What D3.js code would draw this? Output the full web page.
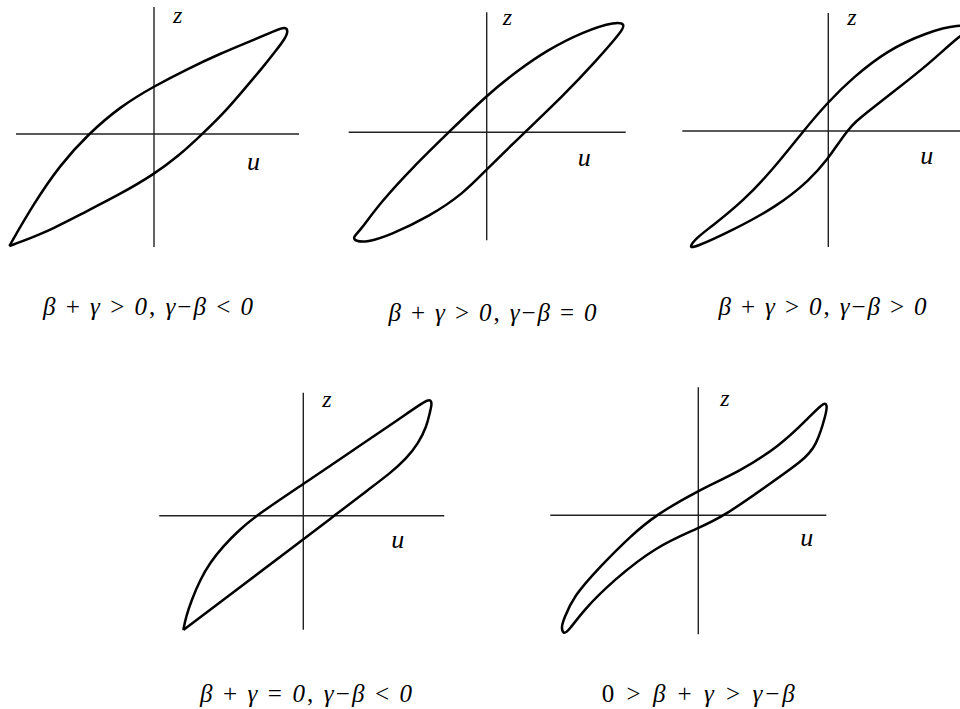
<!DOCTYPE html>
<html>
<head>
<meta charset="utf-8">
<script src="https://cdn.jsdelivr.net/npm/d3@7"></script>
<style>
  body { margin: 0; background: #fff; }
  svg { display: block; }
</style>
</head>
<body>
<svg id="chart" width="960" height="709"></svg>
<script>
// Hysteresis loops z(u) for five parameter regimes, in normalized (u, z) units.
// Each loop runs from the lower-left tip up the ascending branch,
// round the upper-right tip and back down the descending branch.
const loopA = [
  [-1.447, -1.120], [-1.207, -0.703], [-0.940, -0.310], [-0.657, 0.000], [-0.330, 0.280],
  [0.000, 0.477], [0.327, 0.647], [0.660, 0.803], [0.993, 0.940], [1.227, 1.040],
  [1.313, 1.073], [1.343, 1.030], [1.310, 0.953], [1.227, 0.843], [1.077, 0.653],
  [0.893, 0.437], [0.693, 0.203], [0.483, 0.000], [0.243, -0.223], [0.000, -0.403],
  [-0.340, -0.603], [-0.723, -0.797], [-1.107, -0.997], [-1.447, -1.120]
];
const loopB = [
  [-1.34, -1.05], [-1.27, -0.99], [-1.07, -0.71], [-0.73, -0.34], [-0.38, 0.00],
  [0.00, 0.37], [0.30, 0.61], [0.60, 0.82], [0.97, 1.01], [1.30, 1.11],
  [1.38, 1.08], [1.36, 1.02], [1.10, 0.72], [0.77, 0.37], [0.38, 0.00],
  [0.00, -0.37], [-0.23, -0.61], [-0.57, -0.84], [-0.97, -1.03], [-1.20, -1.10],
  [-1.31, -1.09]
];
const loopC = [
  [-1.390, -1.160], [-1.317, -1.067], [-1.183, -0.967], [-0.850, -0.700], [-0.550, -0.380],
  [-0.250, 0.000], [0.000, 0.293], [0.250, 0.537], [0.583, 0.803], [0.983, 0.987],
  [1.317, 1.070], [1.450, 1.030], [1.317, 0.960], [0.983, 0.650], [0.650, 0.393],
  [0.417, 0.210], [0.267, 0.090], [0.190, 0.000], [0.093, -0.133], [0.000, -0.273],
  [-0.183, -0.490], [-0.517, -0.757], [-0.950, -0.990], [-1.350, -1.173]
];
const loopD = [
  [-1.200, -1.143], [-1.173, -1.010], [-1.117, -0.843], [-1.033, -0.643], [-0.933, -0.470],
  [-0.800, -0.303], [-0.640, -0.143], [-0.473, 0.000], [0.000, 0.317], [0.467, 0.633],
  [0.967, 0.973], [1.217, 1.147], [1.273, 1.163], [1.287, 1.117], [1.267, 1.040],
  [1.233, 0.890], [1.150, 0.723], [1.033, 0.573], [0.867, 0.423], [0.667, 0.273],
  [0.310, 0.000], [0.000, -0.237], [-0.600, -0.690], [-1.200, -1.143]
];
const loopE = [
  [-1.35, -1.19], [-1.37, -1.12], [-1.35, -1.05], [-1.25, -0.81], [-0.98, -0.51],
  [-0.68, -0.21], [-0.43, 0.00], [0.00, 0.25], [0.42, 0.44], [0.82, 0.70],
  [1.08, 0.95], [1.25, 1.13], [1.29, 1.11], [1.28, 1.02], [1.18, 0.69],
  [1.05, 0.55], [0.68, 0.29], [0.27, 0.00], [0.00, -0.13], [-0.42, -0.31],
  [-0.85, -0.65], [-1.15, -0.95], [-1.30, -1.16]
];

// Axis names
const uName = "u";
const zName = "z";

// Regime captions as [text, italic] runs
const captionA = [["β", 1], [" + ", 0], ["γ", 1], [" > ", 0], ["0", 1], [", ", 0], ["γ", 1], ["−", 0], ["β", 1], [" < ", 0], ["0", 1]];
const captionB = [["β", 1], [" + ", 0], ["γ", 1], [" > ", 0], ["0", 1], [", ", 0], ["γ", 1], ["−", 0], ["β", 1], [" = ", 0], ["0", 1]];
const captionC = [["β", 1], [" + ", 0], ["γ", 1], [" > ", 0], ["0", 1], [", ", 0], ["γ", 1], ["−", 0], ["β", 1], [" > ", 0], ["0", 1]];
const captionD = [["β", 1], [" + ", 0], ["γ", 1], [" = ", 0], ["0", 1], [", ", 0], ["γ", 1], ["−", 0], ["β", 1], [" < ", 0], ["0", 1]];
const captionE = [["0", 0], [" > ", 0], ["β", 1], [" + ", 0], ["γ", 1], [" > ", 0], ["γ", 1], ["−", 0], ["β", 1]];

// Panel layout: pixel origin, pixels per unit, axis extents and label anchors (in units)
const unitPx = 100;
const panels = [
  { loop: loopA, closed: false, caption: captionA, ox: 154, oy: 134,
    uExt: [-1.38, 1.45], zExt: [-1.13, 1.27], zAt: [0.19, 1.11], uAt: [0.93, -0.36],
    cap: { x: 148, y: 315, w: 210 } },
  { loop: loopB, closed: true, caption: captionB, ox: 486.7, oy: 132.3,
    uExt: [-1.38, 1.39], zExt: [-1.08, 1.20], zAt: [0.16, 1.07], uAt: [0.91, -0.34],
    cap: { x: 492.5, y: 321, w: 208 } },
  { loop: loopC, closed: true, caption: captionC, ox: 828.3, oy: 131,
    uExt: [-1.46, 1.40], zExt: [-1.16, 1.18], zAt: [0.19, 1.06], uAt: [0.92, -0.33],
    cap: { x: 822.5, y: 315, w: 208 } },
  { loop: loopD, closed: false, caption: captionD, ox: 303.3, oy: 515.7,
    uExt: [-1.44, 1.41], zExt: [-1.14, 1.23], zAt: [0.19, 1.09], uAt: [0.88, -0.32],
    cap: { x: 306, y: 702, w: 212 } },
  { loop: loopE, closed: true, caption: captionE, ox: 698.3, oy: 515.3,
    uExt: [-1.48, 1.28], zExt: [-1.19, 1.28], zAt: [0.22, 1.09], uAt: [1.02, -0.31],
    cap: { x: 698.3, y: 702, w: 193 } }
];

const svg = d3.select("#chart");
const serif = '"Liberation Serif"';

panels.forEach(p => {
  const x = d3.scaleLinear().domain([-1, 1]).range([p.ox - unitPx, p.ox + unitPx]);
  const y = d3.scaleLinear().domain([-1, 1]).range([p.oy + unitPx, p.oy - unitPx]);
  const g = svg.append("g");

  // u and z axes through the origin
  g.append("line")
    .attr("x1", x(p.uExt[0])).attr("x2", x(p.uExt[1]))
    .attr("y1", y(0)).attr("y2", y(0))
    .attr("stroke", "#222").attr("stroke-width", 1.4);
  g.append("line")
    .attr("x1", x(0)).attr("x2", x(0))
    .attr("y1", y(p.zExt[0])).attr("y2", y(p.zExt[1]))
    .attr("stroke", "#222").attr("stroke-width", 1.4);

  // hysteresis loop, smoothed through the sampled points
  const line = d3.line()
    .x(d => x(d[0])).y(d => y(d[1]))
    .curve(p.closed ? d3.curveBasisClosed : d3.curveBasis);
  g.append("path")
    .attr("d", line(p.loop))
    .attr("fill", "none")
    .attr("stroke", "#000")
    .attr("stroke-width", 2.5)
    .attr("stroke-linejoin", "round");

  // axis names
  g.append("text")
    .style("font-family", serif)
    .attr("x", x(p.zAt[0])).attr("y", y(p.zAt[1]))
    .attr("font-style", "italic").attr("font-size", 24)
    .text(zName);
  g.append("text")
    .style("font-family", serif)
    .attr("x", x(p.uAt[0])).attr("y", y(p.uAt[1]))
    .attr("font-style", "italic").attr("font-size", 26)
    .text(uName);

  // regime caption, spread to its column width
  const t = g.append("text")
    .style("font-family", serif)
    .attr("x", p.cap.x - p.cap.w / 2).attr("y", p.cap.y)
    .attr("font-size", 25)
    .attr("textLength", p.cap.w).attr("lengthAdjust", "spacing")
    .style("white-space", "pre");
  t.selectAll("tspan").data(p.caption).join("tspan")
    .attr("font-style", d => d[1] ? "italic" : "normal")
    .text(d => d[0]);
});
</script>
</body>
</html>
